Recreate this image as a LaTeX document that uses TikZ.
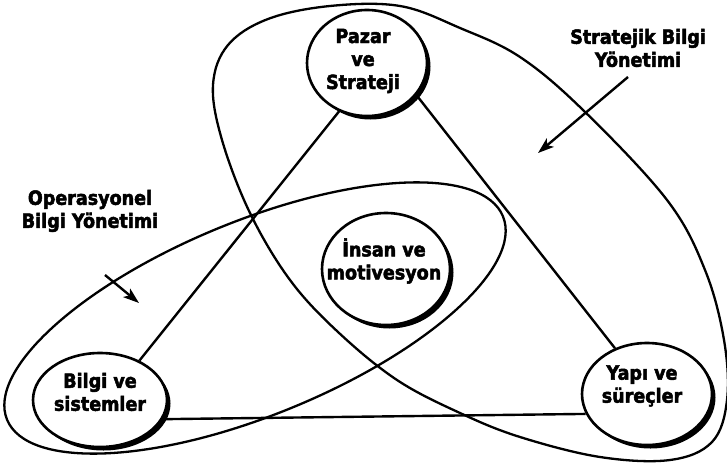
\documentclass[tikz,border=0pt]{standalone}
\usepackage{fontspec}
\setmainfont{DejaVu Sans}[BoldFeatures={FakeBold=2.5,FakeStretch=0.9}]
\usetikzlibrary{shapes.geometric,shadows,arrows.meta}
\begin{document}
\begin{tikzpicture}[x=1pt,y=-1pt,
  lbl/.style={font=\fontsize{19.5}{23}\selectfont\bfseries, align=center, inner sep=0pt},
  topic/.style={ellipse, draw, line width=2.6pt, fill=white, inner sep=0pt,
    drop shadow={shadow xshift=3.5pt, shadow yshift=-3.5pt, fill=black, opacity=1}},
  link/.style={line width=2.4pt},
  group/.style={line width=2.3pt},
  pointer/.style={line width=2.4pt, -{Stealth[length=16pt,width=11pt,inset=4pt]}}
]
\useasboundingbox (0,0) rectangle (727,468);

% group outlines
\draw[group] plot[smooth cycle, tension=0.6] coordinates {
  (228,45) (268,19) (330,6) (400,6) (460,28) (520,57) (583,110) (667,200)
  (705,270) (724,340) (727,400) (712,442) (670,460) (600,457) (520,437)
  (460,413) (397,380) (338,332) (290,280) (250,213) (222,140) (213,85)};
\node[draw, ellipse, group, inner sep=0pt, minimum width=536pt, minimum height=194pt,
  rotate=22.3] (oper) at (255,318) {};

% topic circles
\node[topic, minimum width=120pt, minimum height=106pt] (paz) at (367,63) {};
\node[topic, minimum width=128pt, minimum height=112pt] (ins) at (386,269) {};
\node[topic, minimum width=134pt, minimum height=94pt] (bil) at (100,400) {};
\node[topic, minimum width=130pt, minimum height=102pt] (yap) at (647,394) {};

\node[lbl] (pazt) at (363,61) {Pazar\\ve\\Strateji};
\node[lbl] (inst) at (384,261) {İnsan ve\\motivesyon};
\node[lbl] (bilt) at (100,392) {Bilgi ve\\sistemler};
\node[lbl] (yapt) at (642,386) {Yapı ve\\süreçler};

% triangle
\draw[link] (paz.-120) -- (bil.45);
\draw[link] (paz.-33) -- (yap.125);
\draw[link] (bil.-17) -- (yap.-162);

% labels and arrows
\node[lbl] (strl) at (638,48) {Stratejik Bilgi\\Yönetimi};
\node[lbl] (opl) at (90,211) {Operasyonel\\Bilgi Yönetimi};
\coordinate (sa1) at (628,77);
\coordinate (sa2) at (538,153);
\coordinate (oa1) at (105,275);
\coordinate (oa2) at (139,303);
\draw[pointer] (sa1) -- (sa2);
\draw[pointer] (oa1) -- (oa2);
\end{tikzpicture}
\end{document}
